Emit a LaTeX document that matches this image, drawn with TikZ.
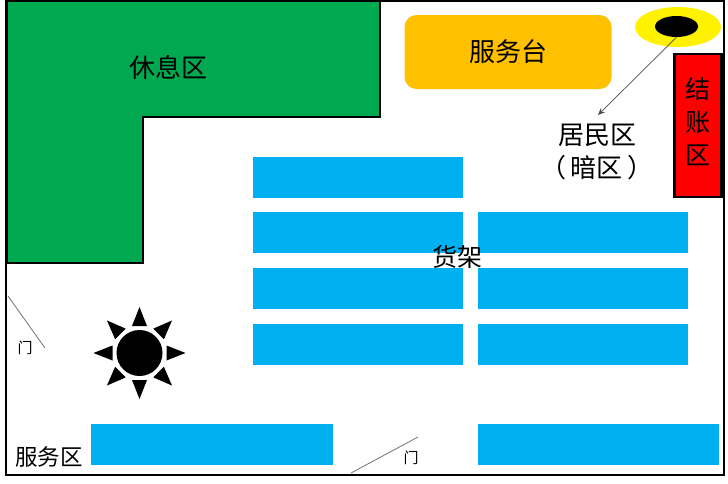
\documentclass[tikz,border=0pt]{standalone}
\usepackage{fontspec}
\setmainfont{Noto Sans CJK SC}
\usetikzlibrary{arrows.meta,shapes.geometric}
\definecolor{shelfblue}{HTML}{00B0F0}
\definecolor{deskorange}{HTML}{FFC000}
\definecolor{restgreen}{HTML}{00A94F}
\begin{document}
\begin{tikzpicture}[x=1pt,y=-1pt,
    shelf/.style={
      rectangle,
      fill=shelfblue,
      minimum height=41pt,
      inner sep=0pt,
      anchor=north west
    },
    area/.style={font=\fontsize{26}{30}\selectfont},
    doorlabel/.style={font=\fontsize{15}{18}\selectfont},
    doorline/.style={draw=black!55,line width=0.8pt},
    spike/.style={fill=black,draw=none}
  ]
  \useasboundingbox (0,0) rectangle (728,483);
  % rest area
  \fill[restgreen,draw=black,line width=2.4pt] (7,1) -- (380,1) -- (380,117) -- (143,117) -- (143,263) -- (7,263) -- cycle;
  % outer wall
  \draw[line width=2.6pt] (6,1) rectangle (724,475);
  \node[area] (rest) at (168,67) {休息区};
  % service desk
  \node[rectangle,rounded corners=12pt,fill=deskorange,minimum width=207pt,minimum height=74pt,inner sep=0pt,area] (desk) at (508,52) {服务台};
  % checkout
  \node[rectangle,fill=red,draw=black,line width=2.4pt,minimum width=47pt,minimum height=143pt,inner sep=0pt] (checkout) at (698,125.5) {};
  \node[align=center,font=\fontsize{25}{33}\selectfont] (paylabel) at (698,122) {结\\账\\区};
  % lamp
  \node[ellipse,fill=yellow,minimum width=86pt,minimum height=40pt,inner sep=0pt] (glow) at (678,27) {};
  \node[ellipse,fill=black,minimum width=43pt,minimum height=21pt,inner sep=0pt] (lamp) at (676.5,26.5) {};
  \node[align=center,font=\fontsize{26}{33}\selectfont] (home) at (597,152) {居民区\\（\,暗区\,）};
  \coordinate (hometop) at (598,115);
  \draw[-{Stealth[length=7pt,width=6pt]},black!70,line width=0.7pt] (lamp.south) -- (hometop);
  % shelves
  \node[shelf,minimum width=210pt] (s1) at (253,157) {};
  \foreach \name/\ypos in {a/212,b/268,c/324}{
    \node[shelf,minimum width=210pt] (s\name l) at (253,\ypos) {};
    \node[shelf,minimum width=210pt] (s\name r) at (478,\ypos) {};
  }
  \node[shelf,minimum width=242pt] (s2) at (91,424) {};
  \node[shelf,minimum width=241pt] (s3) at (478,424) {};
  \node[font=\fontsize{25}{30}\selectfont] (goods) at (457,257) {货架};
  % sun
  \node[circle,fill=black,minimum size=46pt,inner sep=0pt] (sun) at (139.5,353) {};
  \foreach \a in {0,45,...,315}{
    \fill[spike,shift={(sun.center)},rotate=\a] (27,-7.5) -- (27,7.5) -- (46,0) -- cycle;
  }
  % doors
  \coordinate (d1a) at (8,296);
  \coordinate (d1b) at (45,348);
  \coordinate (d2a) at (351,473);
  \coordinate (d2b) at (418,437);
  \draw[doorline] (d1a) -- (d1b);
  \draw[doorline] (d2a) -- (d2b);
  \node[doorlabel] (door1) at (25,348) {门};
  \node[doorlabel] (door2) at (411,458) {门};
  \node[font=\fontsize{22.5}{26}\selectfont] (service) at (49,457) {服务区};
\end{tikzpicture}
\end{document}
